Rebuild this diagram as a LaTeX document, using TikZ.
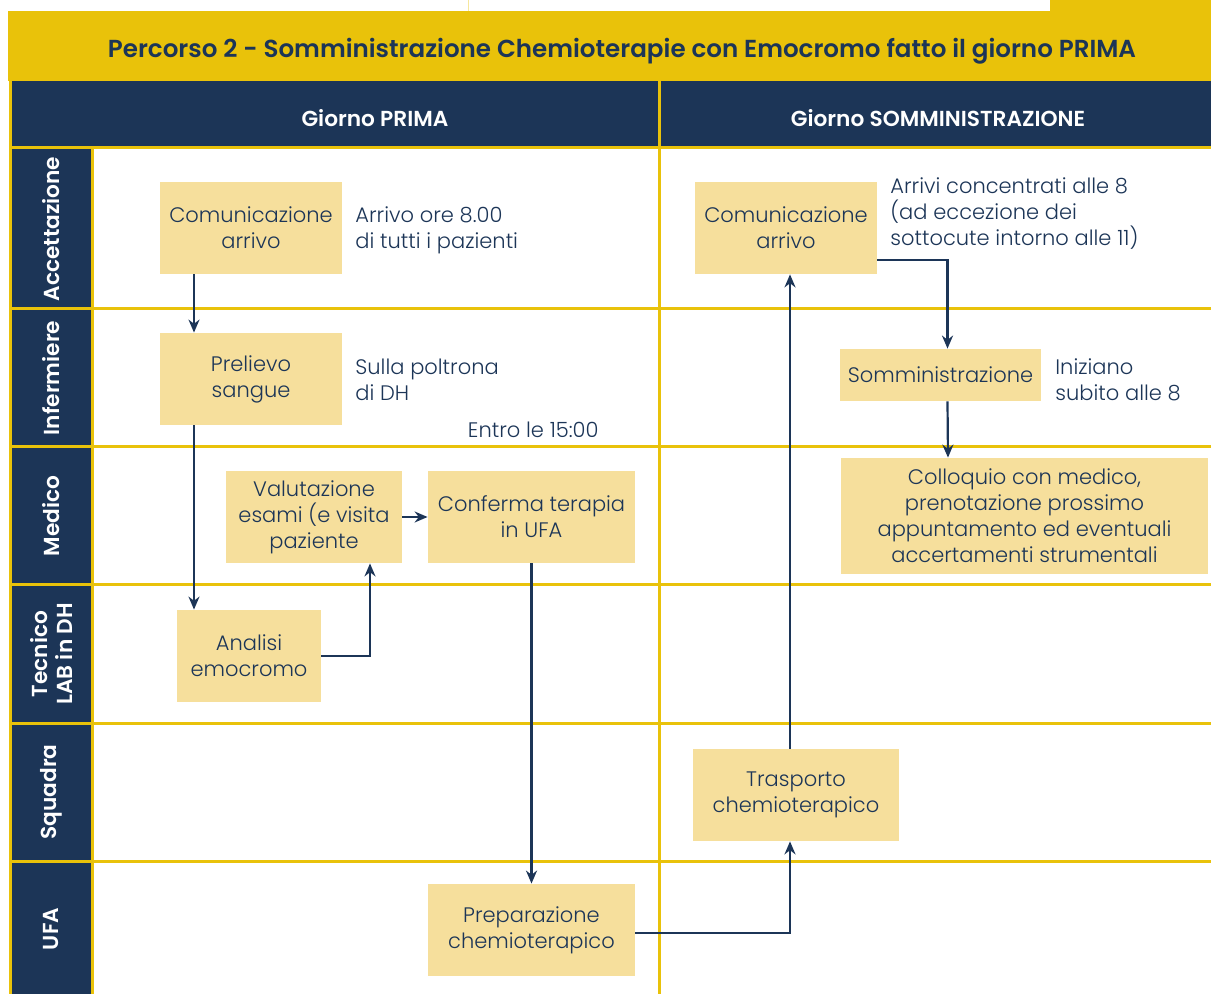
\documentclass[tikz,border=0pt]{standalone}
\usepackage{fontspec}
\setmainfont{Poppins}
\IfFontExistsTF{Poppins Light}{\newfontfamily\thinfont{Poppins Light}}{\newcommand\thinfont{}}
\IfFontExistsTF{Poppins SemiBold}{\newfontfamily\semifont{Poppins SemiBold}}{\newcommand\semifont{\bfseries}}
\usepackage{tikz}
\usetikzlibrary{arrows.meta}

\definecolor{navy}{HTML}{1C3557}
\definecolor{gold}{HTML}{E9C20A}
\definecolor{sand}{HTML}{F6DF9C}

\newcommand\bxfont{\thinfont\fontsize{10.5pt}{13pt}\selectfont}
\newcommand\ttlfont{\semifont\fontsize{12.3pt}{14pt}\selectfont}
\newcommand\hdrfont{\semifont\fontsize{10.85pt}{12.5pt}\selectfont}

\begin{document}
\begin{tikzpicture}[x=0.5pt,y=-0.5pt,
    box/.style={fill=sand,text=navy,align=center,inner sep=0pt,font=\bxfont},
    note/.style={text=navy,align=left,anchor=west,inner sep=0pt,font=\bxfont},
    lane/.style={text=white,font=\hdrfont,rotate=90,align=center},
    grid/.style={gold,line width=1.5pt},
    flow/.style={navy,line width=1.1pt,-{Stealth[length=6.5pt,width=5.5pt]}}]

    \useasboundingbox (0,0) rectangle (1211,994);

    % title band
    \fill[gold] (1050,0) rectangle (1211,12);
    \draw[gold!40,line width=0.5pt] (468,0) -- (468,11);
    \fill[gold] (8,11) rectangle (1211,81);
    \node[text=navy,font=\ttlfont] (title) at (622,51)
        {Percorso 2 - Somministrazione Chemioterapie con Emocromo fatto il giorno PRIMA};

    % header and lane column
    \fill[navy] (10,81) rectangle (1211,148);
    \fill[navy] (10,148) rectangle (92,994);
    \node[text=white,font=\hdrfont] (prima) at (375,118) {Giorno PRIMA};
    \node[text=white,font=\hdrfont] (giorno) at (938,118) {Giorno SOMMINISTRAZIONE};

    \foreach \y in {148,309,447,585,723,861}
        \draw[grid] (10,\y) -- (1211,\y);
    \foreach \x in {10,92}
        \draw[grid] (\x,148) -- (\x,994);
    \draw[grid] (10,81) -- (10,148);
    \draw[grid] (659,81) -- (659,994);

    \node[lane] (acc) at (51,229) {Accettazione};
    \node[lane] (inf) at (51,378) {Infermiere};
    \node[lane] (med) at (51,516) {Medico};
    \node[lane] (tec) at (51,654) {Tecnico\\LAB in DH};
    \node[lane] (squ) at (51,792) {Squadra};
    \node[lane] (ufa) at (51,929) {UFA};

    % boxes
    \node[box,minimum width=91pt,minimum height=46pt] (com1) at (251,228) {Comunicazione\\arrivo};
    \node[box,minimum width=91pt,minimum height=46pt] (prel) at (251,379) {Prelievo\\sangue};
    \node[box,minimum width=88pt,minimum height=46pt] (valu) at (314,517) {Valutazione\\esami (e visita\\paziente};
    \node[box,minimum width=103.5pt,minimum height=46pt] (conf) at (531.5,517) {Conferma terapia\\in UFA};
    \node[box,minimum width=72pt,minimum height=46pt] (anal) at (249,656) {Analisi\\emocromo};
    \node[box,minimum width=103.5pt,minimum height=46pt] (prep) at (531.5,930) {Preparazione\\chemioterapico};
    \node[box,minimum width=91pt,minimum height=46pt] (com2) at (786,228) {Comunicazione\\arrivo};
    \node[box,minimum width=100.5pt,minimum height=26pt] (somm) at (940.5,375) {Somministrazione};
    \node[box,minimum width=183.5pt,minimum height=58pt] (coll) at (1024.5,516)
        {Colloquio con medico,\\prenotazione prossimo\\appuntamento ed eventuali\\accertamenti strumentali};
    \node[box,minimum width=103pt,minimum height=46pt] (tras) at (796,795) {Trasporto\\chemioterapico};

    % notes
    \node[note] (n1) at (355,230) {Arrivo ore 8.00\\di tutti i pazienti};
    \node[note] (n2) at (355,380) {Sulla poltrona\\di DH};
    \node[text=navy,font=\bxfont,anchor=east,inner sep=0pt] (n3) at (599,430) {Entro le 15:00};
    \node[note] (n4) at (890,214) {Arrivi concentrati alle 8\\(ad eccezione dei\\sottocute intorno alle 11)};
    \node[note] (n5) at (1055,380) {Iniziano\\subito alle 8};

    % flow
    \draw[flow] ([xshift=-28.5pt]com1.south) -- ([xshift=-28.5pt]prel.north);
    \draw[flow] ([xshift=-28.5pt]prel.south) -- ([xshift=-27.5pt]anal.north);
    \draw[flow] (anal.east) -| ([xshift=28pt]valu.south);
    \draw[flow] (valu.east) -- (conf.west);
    \draw[flow] (conf.south) -- (prep.north);
    \draw[flow] ([yshift=-1.5pt]prep.east) -| ([xshift=-3pt]tras.south);
    \draw[flow] ([xshift=-3pt]tras.north) -- ([xshift=2pt]com2.south);
    \draw[flow] ([yshift=-16pt]com2.east) -| ([xshift=3.5pt]somm.north);
    \draw[flow] ([xshift=3.5pt]somm.south) -- ([xshift=-38.25pt]coll.north);
\end{tikzpicture}
\end{document}
